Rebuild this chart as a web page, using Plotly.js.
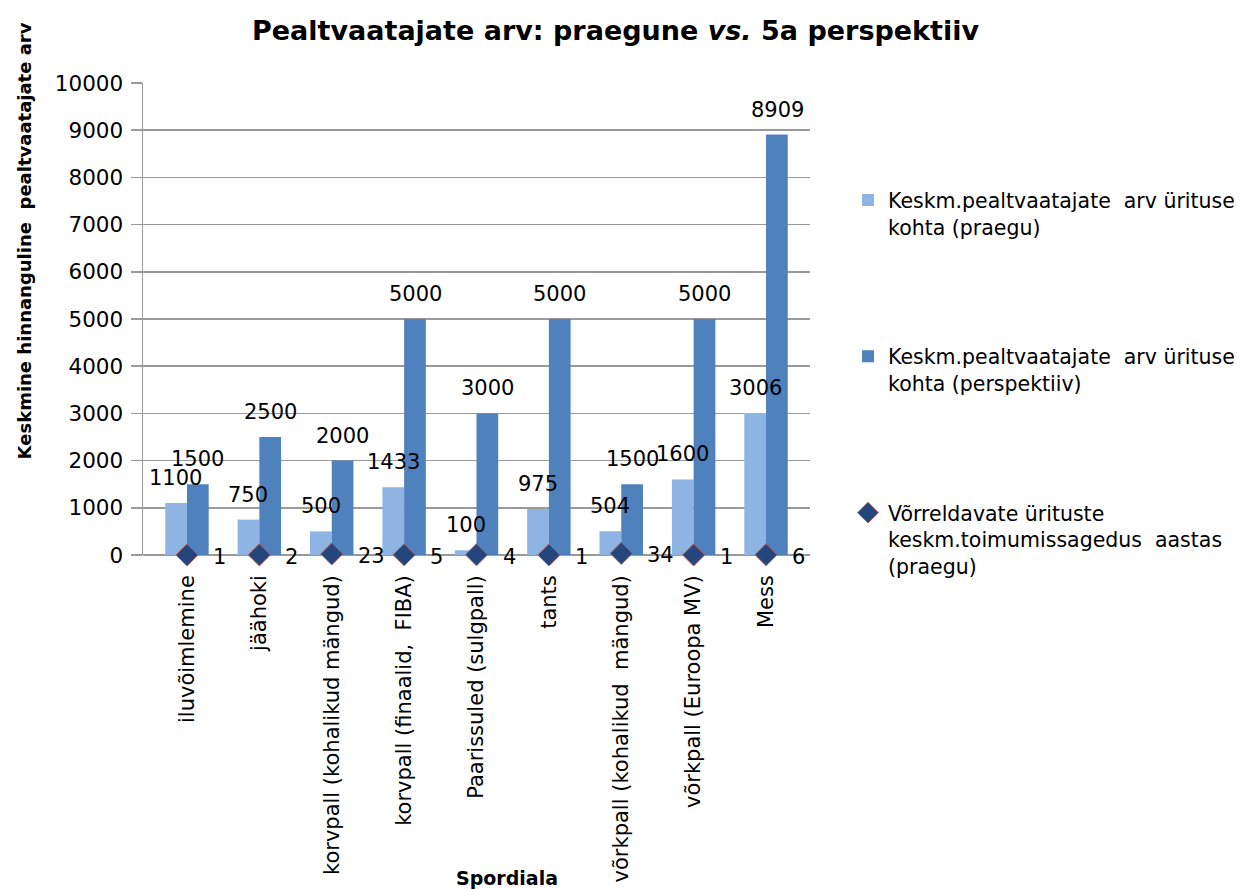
<!DOCTYPE html>
<html>
<head>
<meta charset="utf-8">
<script src="https://cdn.plot.ly/plotly-3.0.1.min.js"></script>
<style>body{margin:0;background:#fff}#chart{width:1242px;height:889px}</style>
</head>
<body>
<div id="chart"></div>
<script>
const categories = ["iluvõimlemine", "jäähoki", "korvpall (kohalikud mängud)", "korvpall (finaalid,\u00a0 FIBA)", "Paarissuled (sulgpall)", "tants", "võrkpall (kohalikud\u00a0 mängud)", "võrkpall (Euroopa MV)", "Mess"];
const currentAvg = [1100, 750, 500, 1433, 100, 975, 504, 1600, 3006];
const futureAvg = [1500, 2500, 2000, 5000, 3000, 5000, 1500, 5000, 8909];
const frequency = [1, 2, 23, 5, 4, 1, 34, 1, 6];
const seriesNames = [
  "Keskm.pealtvaatajate\u00a0 arv ürituse<br>kohta (praegu)",
  "Keskm.pealtvaatajate\u00a0 arv ürituse<br>kohta (perspektiiv)",
  "Võrreldavate ürituste<br>keskm.toimumissagedus\u00a0 aastas<br>(praegu)"
];
const yTicks = [0, 1000, 2000, 3000, 4000, 5000, 6000, 7000, 8000, 9000, 10000];
const yTickText = yTicks.map(String);

const FONT = "DejaVu Sans, Verdana, sans-serif";
const LBL = {size: 21, color: "#000", family: FONT};

const traces = [
  {type: "bar", x: categories, y: currentAvg, name: seriesNames[0], legendgroup: "a",
   marker: {color: "#8EB4E3"}},
  {type: "bar", x: categories, y: futureAvg, name: seriesNames[1], legendgroup: "b",
   marker: {color: "#4F81BD"}},
  {type: "scatter", mode: "markers", x: categories, y: frequency, name: seriesNames[2], legendgroup: "c",
   marker: {symbol: "diamond", size: 17, color: "#24467C", line: {color: "#B9585A", width: 1}},
   cliponaxis: false}
];

const annotations = [];
categories.forEach((c, i) => {
  annotations.push({x: c, y: currentAvg[i], xref: "x", yref: "y", text: String(currentAvg[i]),
    showarrow: false, xanchor: "center", yanchor: "middle", xshift: -11, yshift: 25, font: LBL});
  annotations.push({x: c, y: futureAvg[i], xref: "x", yref: "y", text: String(futureAvg[i]),
    showarrow: false, xanchor: "center", yanchor: "middle", xshift: 11, yshift: 25, font: LBL});
  annotations.push({x: c, y: frequency[i], xref: "x", yref: "y", text: String(frequency[i]),
    showarrow: false, xanchor: "left", yanchor: "middle", xshift: 24, yshift: -2, font: LBL});
});
annotations.push(
  {text: "<b>Keskmine hinnanguline\u00a0 pealtvaatajate arv</b>", textangle: -90, xref: "paper", yref: "paper",
   x: -0.178, y: 0.665, xanchor: "center", yanchor: "middle", showarrow: false,
   font: {size: 18, family: FONT}},
  {text: "<b>Spordiala</b>", xref: "paper", yref: "paper", x: 0.545, y: -0.685,
   xanchor: "center", yanchor: "middle", showarrow: false, font: {size: 19, family: FONT}}
);

const layout = {
  width: 1242, height: 889,
  margin: {l: 143, r: 432, t: 83, b: 334, autoexpand: false},
  paper_bgcolor: "#fff", plot_bgcolor: "#fff",
  font: {family: FONT, size: 21, color: "#000"},
  barmode: "group", bargap: 0.4, bargroupgap: 0,
  title: {text: "<b>Pealtvaatajate arv: praegune <i>vs.</i> 5a perspektiiv</b>",
          font: {size: 27, family: FONT}, x: 0.4956, xanchor: "center", y: 0.966, yanchor: "middle"},
  xaxis: {type: "category", tickangle: -90, tickfont: {size: 21}, showgrid: false,
          showline: false, ticks: "", ticklabelstandoff: 15, automargin: false},
  yaxis: {range: [0, 10000], tickvals: yTicks, ticktext: yTickText, showgrid: true,
          gridcolor: "#9a9a9a", gridwidth: 1.5,
          showline: true, linecolor: "#9a9a9a", linewidth: 1.5, ticks: "outside", ticklen: 11,
          tickcolor: "#9a9a9a", tickwidth: 1.5, ticklabelstandoff: 3,
          tickfont: {size: 21.5}, zeroline: true, zerolinecolor: "#9a9a9a", zerolinewidth: 1.5,
          automargin: false},
  legend: {x: 1.057, xanchor: "left", y: 0.794, yanchor: "top", valign: "top",
           traceorder: "grouped", tracegroupgap: 100, font: {size: 20.5},
           itemwidth: 30, bgcolor: "rgba(0,0,0,0)"},
  annotations: annotations,
  showlegend: true
};

Plotly.newPlot("chart", traces, layout, {displayModeBar: false, staticPlot: true});
</script>
</body>
</html>
